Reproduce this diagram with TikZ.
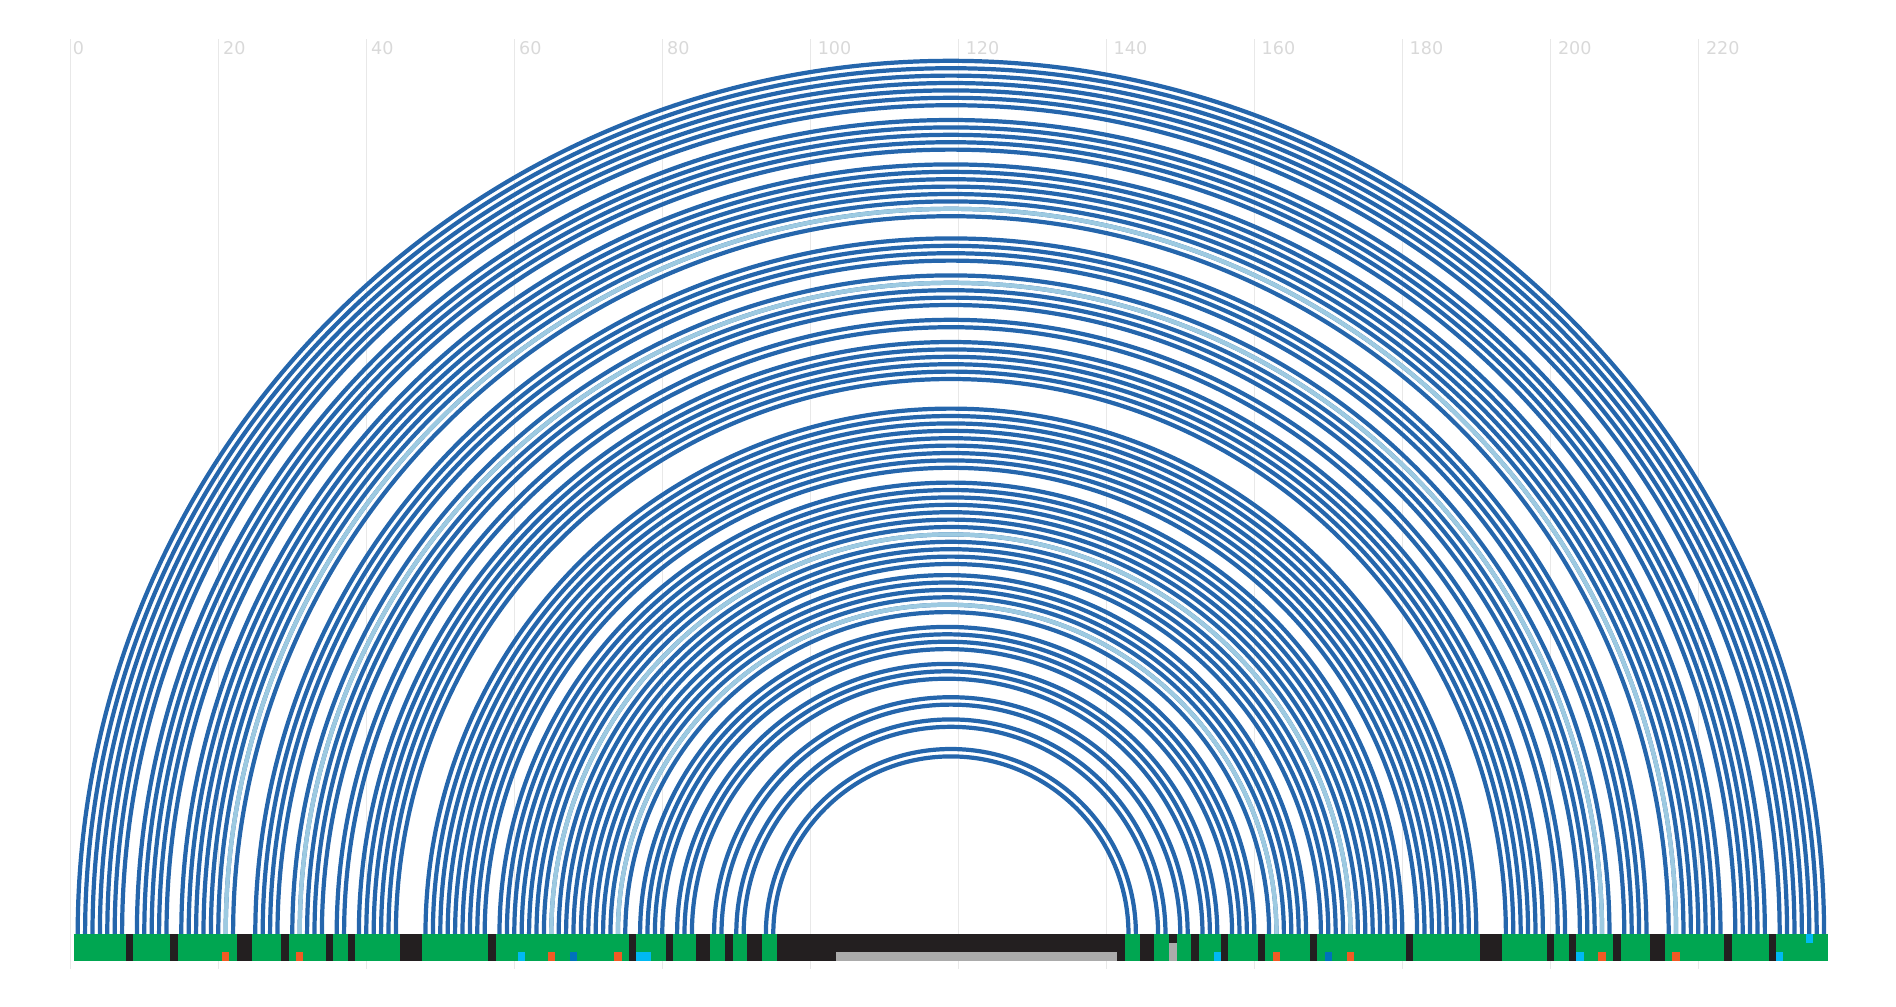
\documentclass[tikz,border=0pt]{standalone}
\usepackage{fontspec}
\setmainfont{DejaVu Sans}

\definecolor{arcblue}{HTML}{2566AC}
\definecolor{arclight}{HTML}{9DCAE1}
\definecolor{stemgreen}{HTML}{00A651}
\definecolor{loopblack}{HTML}{231F20}
\definecolor{gridgray}{HTML}{E8E8E8}
\definecolor{ticktext}{HTML}{D9D9D9}
\definecolor{markorange}{HTML}{F15A24}
\definecolor{markcyan}{HTML}{00B9F2}
\definecolor{markblue}{HTML}{0072BC}
\definecolor{regiongray}{HTML}{ABABAB}

% helices: left start / right end / length
\newcommand{\helixlist}{1/237/7, 9/229/5, 15/223/8, 25/213/4, 30/208/5, 36/202/2, 39/199/6, 48/190/9, 58/180/12, 70/167/6, 77/160/4, 82/155/3, 87/151/2, 90/148/2, 94/144/2}

\begin{document}
\begin{tikzpicture}[x=0.148cm, y=0.148cm,
  pair/.style = {arcblue, line width=2.4pt},
  wobble/.style = {arclight, line width=2.4pt},
  tick/.style = {anchor=north west, inner sep=0pt, text=ticktext, font=\fontsize{10}{12}\selectfont}]
\useasboundingbox (-9.5,-9.73) rectangle (246.72,126.22);

\foreach \v/\dx in {0/0.31, 20/0.6, 40/0.6, 60/0.6, 80/0.6, 100/0.96, 120/0.96, 140/0.96, 160/0.96, 180/0.96, 200/1.0, 220/1.0} {
  \draw[gridgray, line width=0.8pt] (\v,-4.73) -- (\v,120.9);
  \node[tick] (t\v) at (\v+\dx,120.7) {\v};
}

\foreach \a/\b/\n in \helixlist {
  \foreach \t in {1,...,\n}
    \draw[pair] (\a+\t-1,0) arc[start angle=180, end angle=0, radius={(\b-\a-2*\t+2)/2}];
}
\foreach \i/\j in {21/217, 31/207, 65/173, 74/163}
  \draw[wobble] (\i,0) arc[start angle=180, end angle=0, radius={(\j-\i)/2}];

% sequence bar
\fill[loopblack] (0.5,0) rectangle (237.5,-3.65);
\foreach \a/\b/\n in \helixlist {
  \fill[stemgreen] (\a-0.5,0) rectangle (\a+\n-0.5,-3.65);
  \fill[stemgreen] (\b-\n+0.5,0) rectangle (\b+0.5,-3.65);
}
\fill[regiongray] (103.5,-2.43) rectangle (141.5,-3.65);
\fill[regiongray] (148.5,-1.22) rectangle (149.5,-3.65);
\foreach \i in {21,31,65,74,163,173,207,217}
  \fill[markorange] (\i-0.5,-2.43) rectangle (\i+0.5,-3.65);
\foreach \i in {61,77,78,155,204,231}
  \fill[markcyan] (\i-0.5,-2.43) rectangle (\i+0.5,-3.65);
\foreach \i in {68,170}
  \fill[markblue] (\i-0.5,-2.43) rectangle (\i+0.5,-3.65);
\fill[markcyan] (234.5,0) rectangle (235.5,-1.22);
\end{tikzpicture}
\end{document}
